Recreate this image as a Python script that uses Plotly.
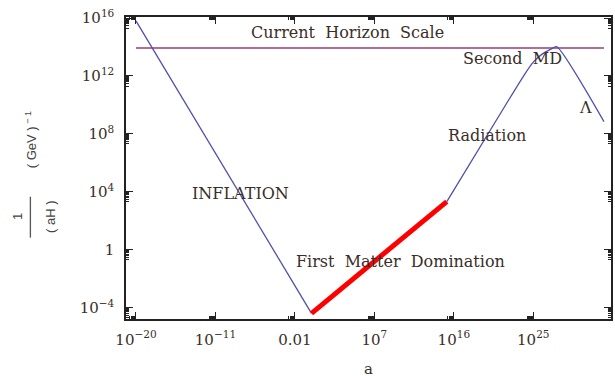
import plotly.graph_objects as go

# ---- data ----
a_inflation = [1e-20, 0.76]
y_inflation = [6.3e15, 4.0e-5]

a_matter = [0.76, 1.6e15]
y_matter = [4.0e-5, 2.1e3]

a_late = [1.6e15, 1e22, 1e24, 1e25, 1e26, 1e27, 4.3e27, 1e33]
y_late = [2.1e3, 1.35e10, 1.25e12, 8.9e12, 3.2e13, 7.1e13, 1.05e14, 7.0e8]

a_horizon = [1e-20, 1e33]
y_horizon = [8.5e13, 8.5e13]

x_tick_vals = [1e-20, 1e-11, 1e-2, 1e7, 1e16, 1e25]
x_tick_text = ["10<sup>−20</sup>", "10<sup>−11</sup>", "0.01", "10<sup>7</sup>", "10<sup>16</sup>", "10<sup>25</sup>"]
y_tick_vals = [1e-4, 1, 1e4, 1e8, 1e12, 1e16]
y_tick_text = ["10<sup>−4</sup>", "1", "10<sup>4</sup>", "10<sup>8</sup>", "10<sup>12</sup>", "10<sup>16</sup>"]

NB = "\u00a0"
labels = ["Current" + NB * 2 + "Horizon" + NB * 2 + "Scale", "Second" + NB * 2 + "MD", "Λ",
          "Radiation", "INFLATION", "First" + NB * 2 + "Matter" + NB * 2 + "Domination"]
label_logx = [3.9, 22.6, 30.9, 19.8, -8.2, 10.0]
label_logy = [14.97, 13.17, 9.79, 7.86, 3.86, -0.83]

BLUE = "rgb(80,80,170)"
PURPLE = "rgb(153,61,116)"
TXT = "#3a2e28"
SERIF = "DejaVu Serif"
SANS = "Liberation Sans"

def minor_vals(majors):
    out = []
    for m in majors:
        for k in range(2, 10):
            out.append(k * m / 10.0)
    return out

def px_x(px):
    return (px - 126) / 487.0

def px_y(py):
    return (319.5 - py) / 302.5

fig = go.Figure()
fig.add_trace(go.Scatter(x=a_horizon, y=y_horizon, mode="lines",
                         line=dict(color=PURPLE, width=1.4), hoverinfo="skip"))
fig.add_trace(go.Scatter(x=a_inflation, y=y_inflation, mode="lines",
                         line=dict(color=BLUE, width=1.3), hoverinfo="skip"))
fig.add_trace(go.Scatter(x=a_late, y=y_late, mode="lines",
                         line=dict(color=BLUE, width=1.3, shape="spline", smoothing=0.6), hoverinfo="skip"))
fig.add_trace(go.Scatter(x=a_matter, y=y_matter, mode="lines",
                         line=dict(color="#ff0000", width=5), hoverinfo="skip"))

for t, lx, ly in zip(labels, label_logx, label_logy):
    fig.add_annotation(x=lx, y=ly, xref="x", yref="y", text=t, showarrow=False,
                       xanchor="center", yanchor="middle",
                       font=dict(family=SERIF, size=16, color=TXT))

axis_common = dict(
    type="log", showgrid=False, zeroline=False, showline=True, linecolor="#222",
    linewidth=1.5, mirror="allticks", ticks="inside", ticklen=7, tickwidth=1.3,
    tickcolor="#222", tickfont=dict(family=SERIF, size=15, color=TXT),
)

fig.update_xaxes(**axis_common, range=[-21.13, 33.8], tickmode="array",
                 tickvals=x_tick_vals, ticktext=x_tick_text, ticklabelstandoff=6,
                 minor=dict(tickvals=minor_vals(x_tick_vals), ticks="inside", ticklen=3,
                            tickwidth=1, tickcolor="#222", showgrid=False))
fig.update_yaxes(**axis_common, range=[-4.79, 16.07], tickmode="array",
                 tickvals=y_tick_vals, ticktext=y_tick_text, ticklabelstandoff=7,
                 minor=dict(tickvals=minor_vals(y_tick_vals), ticks="inside", ticklen=3,
                            tickwidth=1, tickcolor="#222", showgrid=False))

# axis titles
fig.add_annotation(x=px_x(370), y=px_y(370), xref="paper", yref="paper",
                   xanchor="center", yanchor="middle",
                   text="a", showarrow=False, font=dict(family=SERIF, size=15, color=TXT))
fig.add_annotation(x=px_x(17), y=px_y(217), xref="paper", yref="paper",
                   xanchor="center", yanchor="middle",
                   text="1", textangle=-90, showarrow=False, font=dict(family=SANS, size=13, color="#444"))
fig.add_annotation(x=px_x(50), y=px_y(217), xref="paper", yref="paper",
                   xanchor="center", yanchor="middle",
                   text="(" + NB + "aH" + NB + ")", textangle=-90, showarrow=False,
                   font=dict(family=SANS, size=13, color="#444"))
fig.add_annotation(x=px_x(30), y=px_y(140), xref="paper", yref="paper",
                   xanchor="center", yanchor="middle",
                   text="(" + NB + "GeV" + NB + ")<sup>" + NB + "−" + NB + "1</sup>", textangle=-90, showarrow=False,
                   font=dict(family=SANS, size=13, color="#444"))
fig.add_shape(type="line", xref="paper", yref="paper",
              x0=px_x(30), x1=px_x(30), y0=px_y(197), y1=px_y(238),
              line=dict(color="#555", width=1.3))

fig.update_layout(
    width=615, height=376, showlegend=False,
    margin=dict(l=126, r=2, t=17, b=56.5),
    paper_bgcolor="white", plot_bgcolor="white",
)

fig.write_html("out.html")
